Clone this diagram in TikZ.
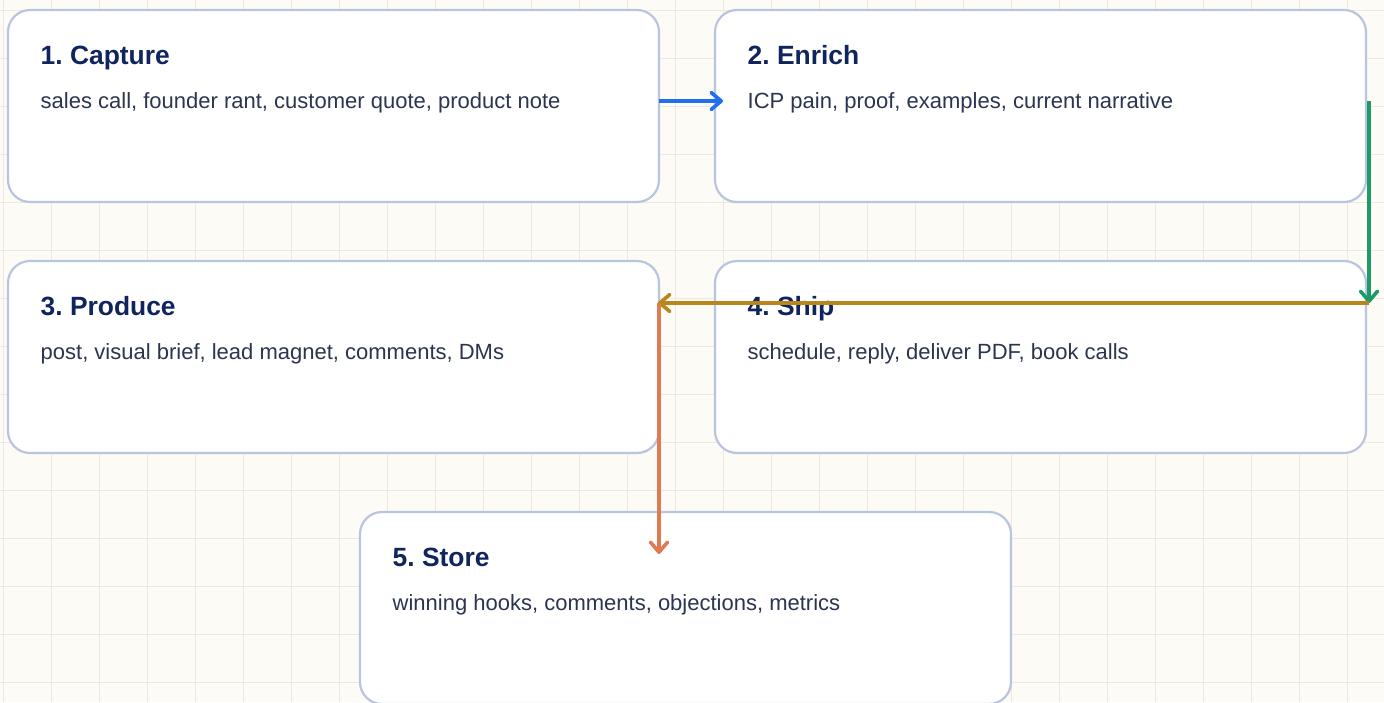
\documentclass[tikz,border=0pt]{standalone}
\usepackage{fontspec}
\setmainfont{Liberation Sans}
\usetikzlibrary{arrows.meta,calc}
\definecolor{bg}{HTML}{FDFBF6}
\definecolor{gridc}{HTML}{EEE8DF}
\definecolor{boxline}{HTML}{B9C5E0}
\definecolor{titlec}{HTML}{10245E}
\definecolor{bodyc}{HTML}{2B3550}
\definecolor{cblue}{HTML}{1F6FEF}
\definecolor{cgreen}{HTML}{1E9A68}
\definecolor{cgold}{HTML}{B8861A}
\definecolor{corange}{HTML}{E07A52}
\frenchspacing
\begin{document}
\begin{tikzpicture}[x=1pt,y=-1pt,
  card/.style={draw=boxline, line width=2.2pt, fill=white, rounded corners=22pt,
    minimum width=651pt, minimum height=192pt, inner sep=0pt, outer sep=0pt, anchor=north west},
  ttl/.style={anchor=base west, inner sep=0pt, text=titlec,
    font=\fontsize{26.4}{30}\selectfont\bfseries},
  txt/.style={anchor=base west, inner sep=0pt, text=bodyc,
    font=\fontsize{22}{26}\selectfont},
  flow/.style={line width=3.4pt, -{Straight Barb[length=10pt,width=17pt,line width=3.6pt,round]}},
  gridline/.style={draw=gridc, line width=1pt}]
\useasboundingbox (0,0) rectangle (1384,702);
\clip (0,0) rectangle (1384,702);
\fill[bg] (0,0) rectangle (1384,702);
\foreach \x in {3,51,...,1384} \draw[gridline] (\x,0) -- (\x,702);
\foreach \y in {10,58,...,702} \draw[gridline] (0,\y) -- (1384,\y);

\node[card] (b1) at (8,10) {};
\node[card] (b2) at (715,10) {};
\node[card] (b3) at (8,261) {};
\node[card] (b4) at (715,261) {};
\node[card] (b5) at (360,512) {};

\foreach \b/\t/\s in {b1/{1. Capture}/{sales call, founder rant, customer quote, product note},
  b2/{2. Enrich}/{ICP pain, proof, examples, current narrative},
  b3/{3. Produce}/{post, visual brief, lead magnet, comments, DMs},
  b4/{4. Ship}/{schedule, reply, deliver PDF, book calls},
  b5/{5. Store}/{winning hooks, comments, objections, metrics}}{
  \node[ttl] (\b t) at ($(\b.north west)+(32.5,54)$) {\t};
  \node[txt] (\b s) at ($(\b.north west)+(32.5,98)$) {\s};
}

\coordinate (p1) at ($(b1.north east)+(0,91)$);
\coordinate (p2) at ($(b2.north west)+(8,91)$);
\coordinate (p3) at ($(b2.north east)+(3,91)$);
\coordinate (p4) at ($(b4.north east)+(3,42)$);
\coordinate (p5) at ($(b3.north east)+(-1,42)$);
\coordinate (p6) at ($(b3.north east)+(0,42)$);
\coordinate (p7) at ($(b5.north west)+(299,42)$);

\draw[flow, cblue] (p1) -- (p2);
\draw[flow, cgreen] (p3) -- (p4);
\draw[flow, cgold] (p4) -- (p5);
\draw[flow, corange] (p6) -- (p7);
\end{tikzpicture}
\end{document}
